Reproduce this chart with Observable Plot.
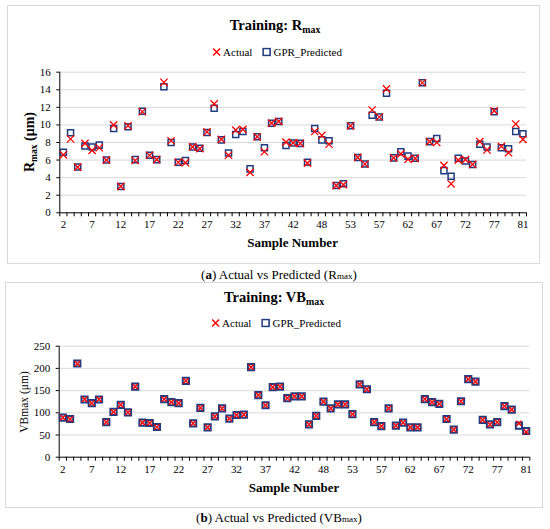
<!DOCTYPE html>
<html><head><meta charset="utf-8">
<script src="https://cdn.jsdelivr.net/npm/d3@7"></script>
<script src="https://cdn.jsdelivr.net/npm/@observablehq/plot@0.6"></script>
<style>
body{margin:0;background:#fff;font-family:"Liberation Serif","Tinos","DejaVu Serif",serif;color:#000;}
#page{position:relative;width:550px;height:529px;overflow:hidden;background:#fff;}
.box{position:absolute;border:1px solid #d9d9d9;box-sizing:border-box;}
.t{position:absolute;white-space:nowrap;transform:translate(-50%,-50%);line-height:1;}
.rot{transform:translate(-50%,-50%) rotate(-90deg);}
.sub{font-size:68%;position:relative;top:0.3em;}
.sm{font-size:70%;}
.leg{display:flex;align-items:center;font-size:11px;}
.leg svg{margin-right:2px;}
.plot{position:absolute;left:0;}
.plot svg, .plot svg text{font-family:"Liberation Serif","Tinos","DejaVu Serif",serif !important;}
</style>
</head><body>
<div id="page">
  <div class="box" style="left:7px;top:5px;width:533px;height:259px;"></div>
  <div class="box" style="left:5px;top:282px;width:538px;height:226px;"></div>

  <div class="t" style="left:275px;top:25px;font-weight:bold;font-size:14.5px;">Training: R<span class="sub">max</span></div>
  <div class="t leg" style="left:277px;top:52px;">
    <svg width="9" height="9"><path d="M1,1L8,8M1,8L8,1" stroke="#ff0000" stroke-width="1.5"/></svg><span style="margin-right:10px">Actual</span>
    <svg width="9" height="9"><rect x="1" y="1" width="7" height="7" fill="none" stroke="#1f3c80" stroke-width="1.6"/></svg><span>GPR_Predicted</span>
  </div>
  <div class="t rot" style="left:30px;top:142px;font-weight:bold;font-size:14px;">R<span class="sub">max</span> (μm)</div>
  <div class="t" style="left:292.6px;top:242px;font-weight:bold;font-size:13px;">Sample Number</div>
  <div class="t" style="left:279px;top:275px;font-size:13px;">(<b>a</b>) Actual vs Predicted (R<span class="sm">max</span>)</div>

  <div class="t" style="left:274px;top:297px;font-weight:bold;font-size:14.5px;">Training: VB<span class="sub">max</span></div>
  <div class="t leg" style="left:276px;top:323px;">
    <svg width="9" height="9"><path d="M1,1L8,8M1,8L8,1" stroke="#ff0000" stroke-width="1.5"/></svg><span style="margin-right:10px">Actual</span>
    <svg width="9" height="9"><rect x="1" y="1" width="7" height="7" fill="none" stroke="#1f3c80" stroke-width="1.6"/></svg><span>GPR_Predicted</span>
  </div>
  <div class="t rot" style="left:25px;top:401.5px;font-size:11.5px;">VBmax (μm)</div>
  <div class="t" style="left:294px;top:486.7px;font-weight:bold;font-size:13px;">Sample Number</div>
  <div class="t" style="left:279px;top:518px;font-size:13px;">(<b>b</b>) Actual vs Predicted (VB<span class="sm">max</span>)</div>

  <div id="p1" class="plot" style="top:60px;"></div>
  <div id="p2" class="plot" style="top:330px;"></div>
</div>
<script>
// ---- data ----
const xTickLabels = ["2","7","12","17","22","27","32","37","42","48","53","57","62","67","72","77","81"];
const labelEvery = 4;

const rmaxActual = [6.6,8.4,5.2,7.9,7.1,7.4,6.0,10.0,3.0,9.9,5.95,11.5,6.55,6.05,14.85,8.2,5.75,5.7,7.5,7.3,
  9.2,12.4,8.35,6.55,9.4,9.5,4.6,8.65,6.95,10.2,10.4,8.05,7.95,7.9,5.65,9.25,8.8,7.8,3.1,3.2,
  9.9,6.3,5.55,11.7,10.9,14.1,6.25,6.7,6.1,6.2,14.8,8.1,8.0,5.4,3.3,6.0,6.05,5.5,8.1,7.15,
  11.6,7.55,6.85,10.1,8.35];
const rmaxPred = [6.9,9.1,5.2,7.6,7.5,7.7,6.0,9.6,3.0,9.8,6.05,11.55,6.55,6.05,14.35,8.0,5.75,5.95,7.5,7.35,
  9.15,11.9,8.3,6.8,8.9,9.25,5.0,8.65,7.4,10.2,10.4,7.65,7.95,7.9,5.75,9.6,8.3,8.2,3.1,3.3,
  9.9,6.3,5.55,11.1,10.9,13.6,6.25,6.95,6.45,6.2,14.8,8.1,8.45,4.8,4.15,6.2,5.9,5.5,7.8,7.5,
  11.5,7.4,7.3,9.25,9.0];

const vbPred = [89,86,211,130,122,130,79,102,118,101,159,78,77,68,131,124,122,172,76,111,
  67,92,110,87,95,96,203,140,117,158,159,133,137,137,74,93,125,110,119,119,
  97,164,153,79,70,110,71,78,67,67,131,124,120,86,62,126,176,170,84,74,
  79,115,107,71,59];
const vbActual = [89,86,211,130,122,130,79,102,118,101,159,78,77,68,131,124,122,172,76,111,
  67,92,110,87,95,96,203,140,117,158,159,133,137,137,74,93,125,110,119,119,
  97,164,153,79,70,110,71,78,67,67,131,124,120,86,62,126,176,170,84,74,
  79,115,107,76,57];

const rmaxTicks = [0,2,4,6,8,10,12,14,16];
const vbTicks = [0,50,100,150,200,250];

const FONT = '"Liberation Serif","Tinos","DejaVu Serif",serif';

function panel(actual, pred, yTicks, o) {
  const n = actual.length;
  const rows = d3.range(n).map(i => ({i, a: actual[i], p: pred[i]}));
  const bounds = d3.range(n + 1).map(k => k - 0.5);
  const labelPos = xTickLabels.map((_, k) => k * labelEvery);
  return Plot.plot({
    width: 550, height: o.height,
    marginTop: o.mt, marginBottom: o.mb, marginLeft: o.ml, marginRight: o.mr,
    style: {fontFamily: FONT, fontSize: "11px", color: "#000", background: "transparent", overflow: "visible"},
    x: {type: "linear", domain: [-0.5, n - 0.5], axis: null},
    y: {domain: [0, yTicks[yTicks.length - 1]], axis: null},
    marks: [
      Plot.gridY(yTicks.filter(v => v > 0), {stroke: "#d9d9d9", strokeOpacity: 1, strokeWidth: 1}),
      Plot.axisY(yTicks, {tickSize: 3, tickPadding: 6, label: null, fontSize: 11, stroke: "#000"}),
      Plot.axisX(bounds, {tickSize: 4, tickFormat: () => "", label: null, stroke: "#000"}),
      Plot.axisX(labelPos, {tickSize: 0, tickPadding: o.tp, tickFormat: k => xTickLabels[Math.round(k / labelEvery)], label: null, fontSize: 11}),
      Plot.ruleX([-0.5], {stroke: "#000", strokeWidth: 1}),
      Plot.ruleY([0], {stroke: "#000", strokeWidth: 1}),
      Plot.dot(rows, {x: "i", y: "p", symbol: "square", r: o.sqR, stroke: "#1f3c80", strokeWidth: o.sqW, fill: o.sqFill}),
      Plot.dot(rows, {x: "i", y: "a", symbol: "times", r: o.xR, stroke: "#ff0000", strokeWidth: o.xW})
    ]
  });
}

document.getElementById("p1").appendChild(panel(rmaxActual, rmaxPred, rmaxTicks,
  {height: 180, mt: 11.7, mb: 180 - 152.3, ml: 59.3, mr: 24, tp: 7, sqR: 3.4, sqW: 1.5, sqFill: "none", xR: 3.4, xW: 1.3}));
document.getElementById("p2").appendChild(panel(vbActual, vbPred, vbTicks,
  {height: 150, mt: 15.7, mb: 150 - 126.7, ml: 58.7, mr: 20.7, tp: 7.5, sqR: 3.5, sqW: 2, sqFill: "#fff", xR: 2.5, xW: 1.4}));
</script>
</body></html>
